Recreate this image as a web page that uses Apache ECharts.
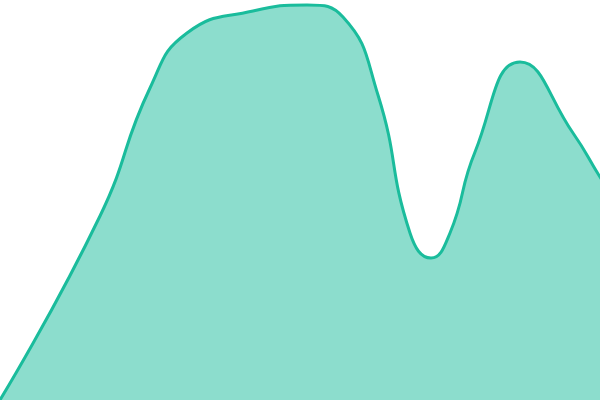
<!DOCTYPE html>
<html><head><meta charset="utf-8">
<script src="https://cdn.jsdelivr.net/npm/echarts@6/dist/echarts.min.js"></script>
<style>html,body{margin:0;padding:0;background:#fff}#c{width:600px;height:400px}</style>
</head><body><div id="c"></div>
<script>
var xValues = [0, 100, 150, 187, 253, 307, 343, 378, 410, 431, 450, 475, 520, 573, 600, 640];
var yValues = [0, 184, 312, 367, 389, 395, 383, 305, 167, 142, 167, 248, 338, 267, 223, 160];
var points = xValues.map(function (x, i) { return [x, yValues[i]]; });
var chart = echarts.init(document.getElementById('c'));
chart.setOption({
  animation: false,
  grid: {left: 0, right: 0, top: 0, bottom: 0},
  xAxis: {type: 'value', min: 0, max: 600, show: false},
  yAxis: {type: 'value', min: 0, max: 400, show: false},
  series: [{
    type: 'line', data: points, smooth: true, symbol: 'none', clip: true,
    lineStyle: {color: '#1abc9c', width: 3},
    areaStyle: {color: '#1abc9c', opacity: 0.5}
  }]
});
</script></body></html>
